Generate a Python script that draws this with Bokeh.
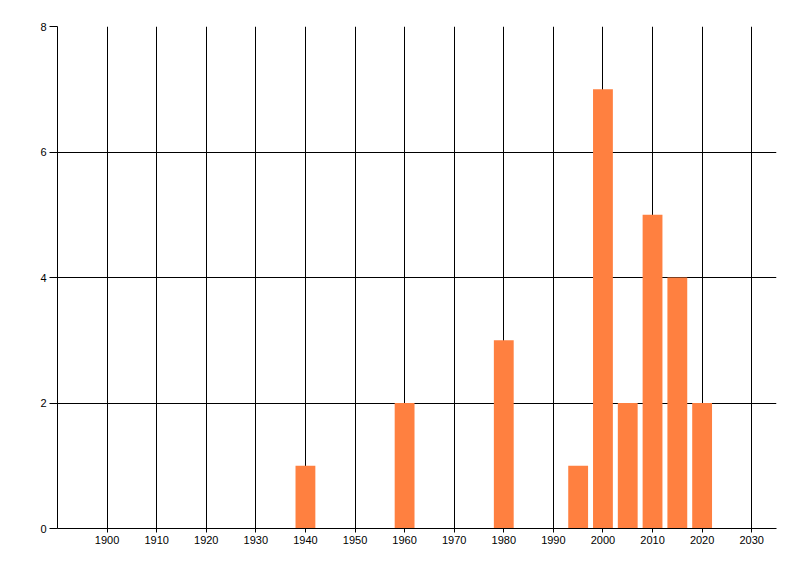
from bokeh.plotting import figure
from bokeh.models import FixedTicker, Range1d
from bokeh.embed import file_html
from bokeh.resources import INLINE

# counts per year
years = [1940, 1960, 1980, 1995, 2000, 2005, 2010, 2015, 2020]
counts = [1, 2, 3, 1, 7, 2, 5, 4, 2]

x_ticks = [1900, 1910, 1920, 1930, 1940, 1950, 1960, 1970, 1980, 1990, 2000, 2010, 2020, 2030]
y_ticks = [0, 2, 4, 6, 8]

p = figure(width=784, height=560, output_backend="svg", toolbar_location=None,
           x_range=Range1d(1890, 2035), y_range=Range1d(0, 8),
           min_border_left=57, min_border_right=8, min_border_top=26, min_border_bottom=32)

p.vbar(x=years, top=counts, width=4, bottom=0, fill_color="#FF8040", line_color=None)

p.outline_line_color = None
p.background_fill_color = "white"
p.border_fill_color = "white"

p.xaxis.ticker = FixedTicker(ticks=x_ticks)
p.yaxis.ticker = FixedTicker(ticks=y_ticks)
p.xgrid.ticker = FixedTicker(ticks=x_ticks)
p.ygrid.ticker = FixedTicker(ticks=y_ticks)
p.grid.grid_line_color = "black"
p.grid.grid_line_width = 1
p.grid.level = "underlay"

for ax in (p.xaxis, p.yaxis):
    ax.axis_line_color = "black"
    ax.major_tick_line_color = "black"
    ax.minor_tick_line_color = None
    ax.major_tick_in = 0
    ax.major_label_text_font = "Liberation Sans"
    ax.major_label_text_font_size = "11px"
    ax.major_label_text_color = "black"

p.xaxis.major_tick_out = 4
p.xaxis.major_label_standoff = 3
p.yaxis.major_tick_out = 8
p.yaxis.major_label_standoff = 3

open("out.html", "w").write(file_html(p, INLINE))
